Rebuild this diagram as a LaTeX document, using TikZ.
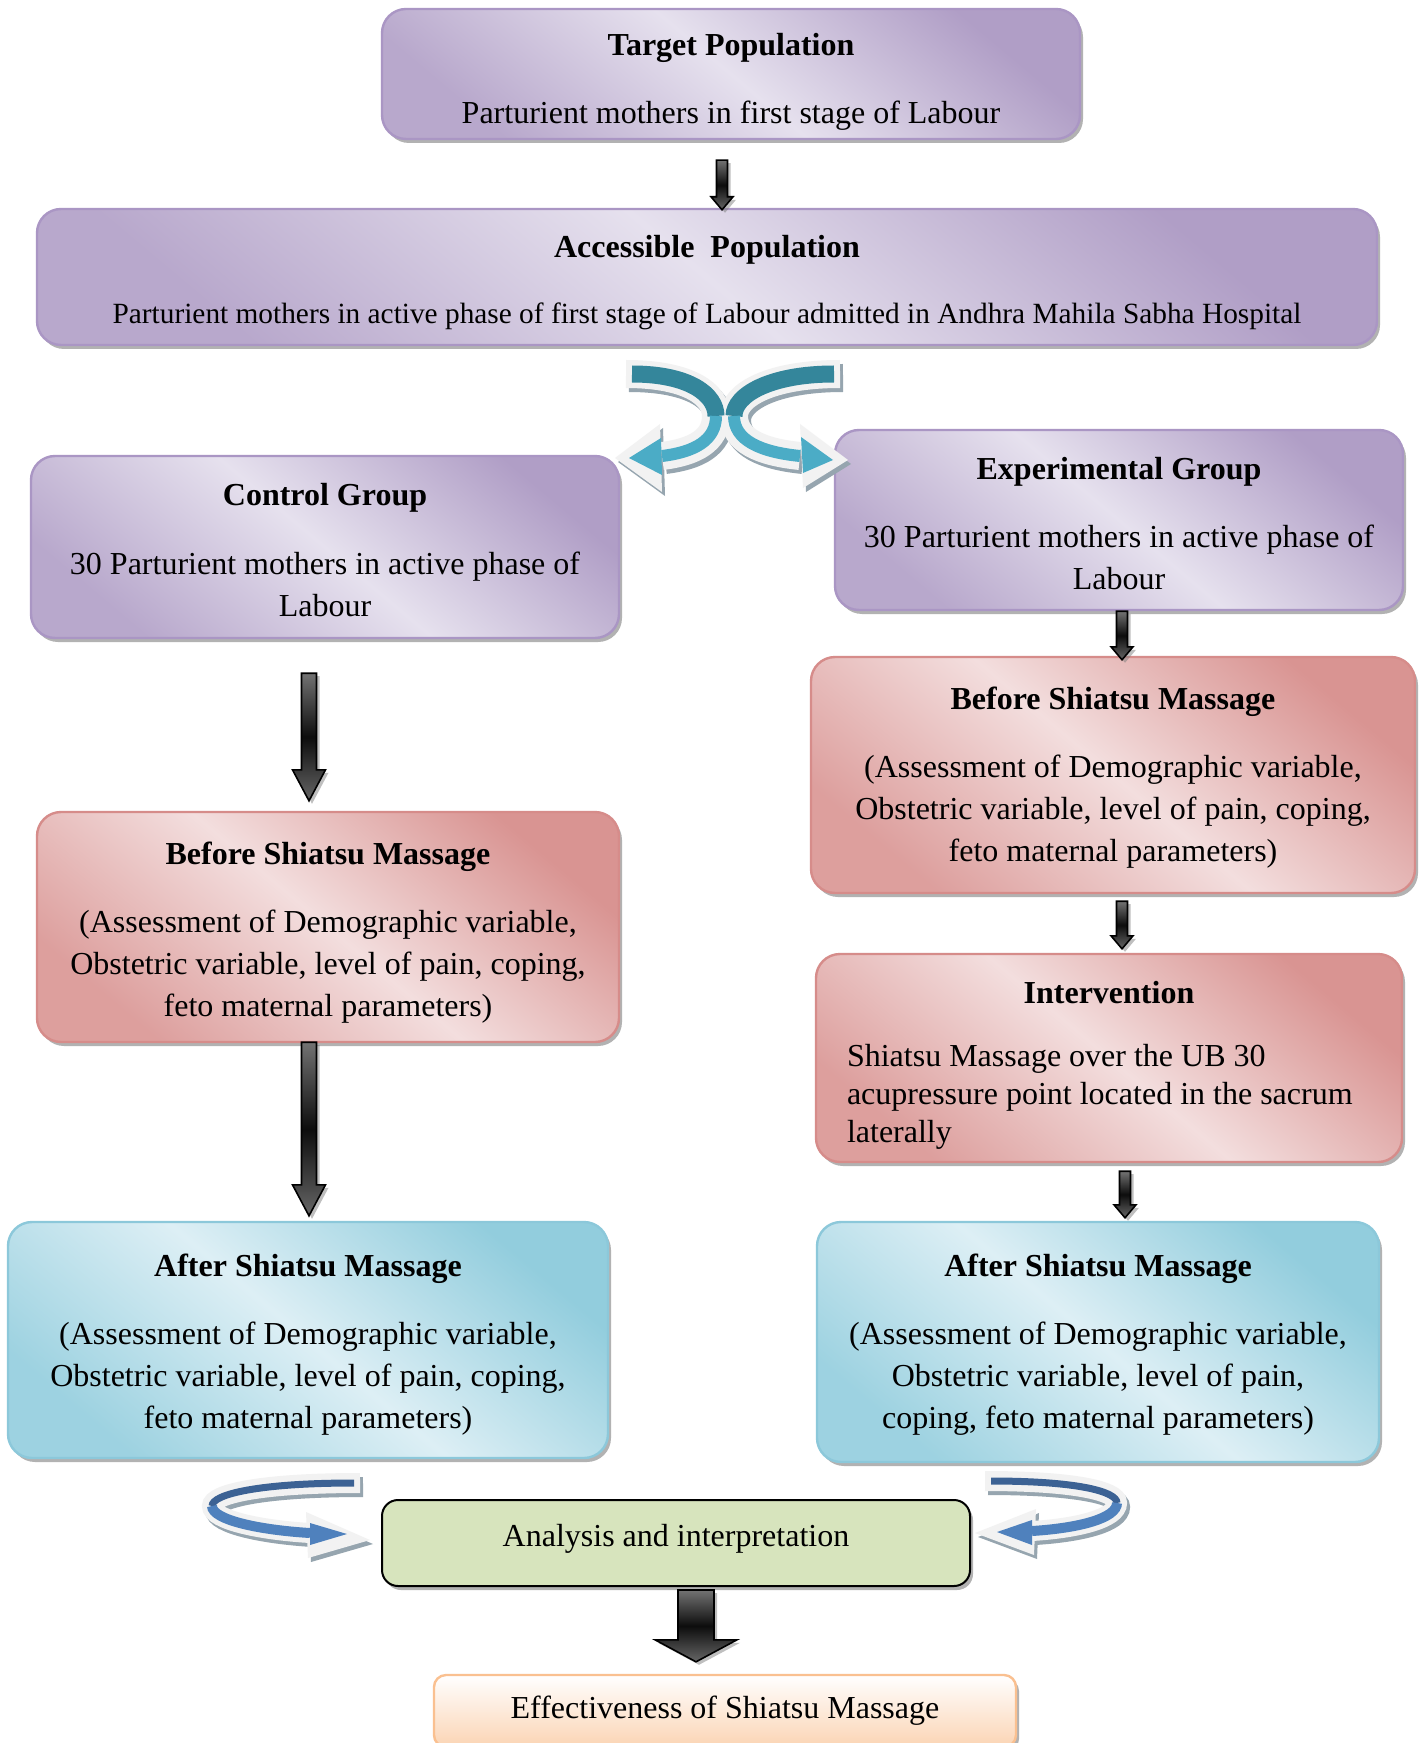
\documentclass[tikz,border=0pt]{standalone}
\usepackage{fontspec}
\setmainfont{Liberation Serif}
\usetikzlibrary{calc,shadows}

\definecolor{purpdark}{RGB}{176,158,198}
\definecolor{purplight}{RGB}{230,225,238}
\definecolor{purpline}{RGB}{170,150,196}
\definecolor{reddark}{RGB}{217,148,146}
\definecolor{redlight}{RGB}{243,222,222}
\definecolor{redline}{RGB}{214,140,138}
\definecolor{bluedark}{RGB}{146,205,221}
\definecolor{bluelight}{RGB}{221,239,245}
\definecolor{blueline}{RGB}{140,200,218}
\definecolor{anagreen}{RGB}{215,228,189}
\definecolor{peachline}{RGB}{250,192,144}
\definecolor{peachfill}{RGB}{251,212,180}
\definecolor{tealdark}{RGB}{52,134,155}
\definecolor{teallight}{RGB}{75,172,198}
\definecolor{swblue}{RGB}{60,98,148}
\definecolor{swbluelight}{RGB}{79,129,189}
\definecolor{swwhite}{RGB}{242,242,242}
\definecolor{swshade}{RGB}{150,165,175}

% strut that pushes a box text down
\newcommand{\boxstrut}[1]{\rule{0pt}{#1}}

\tikzset{
  box/.style={rounded corners=12pt, line width=1.2pt, align=center, inner sep=2pt,
    font=\fontsize{16}{21}\selectfont,
    drop shadow={shadow xshift=1.5pt, shadow yshift=-2pt, fill=black!60, opacity=0.5}},
  purplebox/.style={box, draw=purpline, top color=purpdark, bottom color=purpdark!85!purplight,
    middle color=purplight, shading angle=-40},
  redbox/.style={box, draw=redline, top color=reddark, bottom color=reddark!85!redlight,
    middle color=redlight, shading angle=-40},
  bluebox/.style={box, draw=blueline, top color=bluedark, bottom color=bluedark!85!bluelight,
    middle color=bluelight, shading angle=-40},
  greenbox/.style={box, rounded corners=8pt, draw=black, line width=1pt, fill=anagreen},
  peachbox/.style={box, rounded corners=6pt, draw=peachline, top color=white, bottom color=peachfill,
    drop shadow={shadow xshift=1pt, shadow yshift=-1.5pt, fill=black!30, opacity=0.5}},
  blockarr/.style n args={3}{to path={let \p1=(\tikztostart), \p2=(\tikztotarget) in
      (\x1-#1,\y1) -- (\x1+#1,\y1) -- (\x1+#1,\y2+#3) -- (\x1+#2,\y2+#3)
      -- (\x1,\y2) -- (\x1-#2,\y2+#3) -- (\x1-#1,\y2+#3) -- cycle},
    draw=black, line width=0.8pt, line join=miter,
    top color=black!55, bottom color=black!60, middle color=black!95,
    drop shadow={shadow xshift=1.5pt, shadow yshift=-1.5pt, fill=black!50, opacity=0.5}},
}

\begin{document}
\begin{tikzpicture}[x=0.5pt, y=-0.5pt]
	\path[use as bounding box, fill=white] (0,0) rectangle (1426,1743);
	% populations
	\node[purplebox, minimum width=349pt, minimum height=65pt] (tp) at (731,74)
		{\boxstrut{19.3pt}\textbf{Target Population}\\[13pt]Parturient mothers in first stage of Labour};
	\node[purplebox, minimum width=670pt, minimum height=68pt] (ap) at (707,277)
		{\boxstrut{17pt}\textbf{Accessible\ \ Population}\\[12pt]{\fontsize{14.67}{19}\selectfont Parturient mothers in active phase of first stage of Labour admitted in Andhra Mahila Sabha Hospital}};
	% the two groups
	\node[purplebox, minimum width=294pt, minimum height=91pt] (cg) at (325,547)
		{\boxstrut{13.7pt}\textbf{Control Group}\\[13.5pt]30 Parturient mothers in active phase of\\Labour};
	\node[purplebox, minimum width=284pt, minimum height=90pt] (eg) at (1119,520)
		{\boxstrut{14.9pt}\textbf{Experimental Group}\\[13pt]30 Parturient mothers in active phase of\\Labour};
	% assessments
	\node[redbox, minimum width=291pt, minimum height=115pt] (cbefore) at (328,927)
		{\boxstrut{16.5pt}\textbf{Before Shiatsu Massage}\\[13pt](Assessment of Demographic variable,\\Obstetric variable, level of pain, coping,\\feto maternal parameters)};
	\node[redbox, minimum width=302pt, minimum height=118pt] (ebefore) at (1113,775)
		{\boxstrut{14.3pt}\textbf{Before Shiatsu Massage}\\[13pt](Assessment of Demographic variable,\\Obstetric variable, level of pain, coping,\\feto maternal parameters)};
	\node[redbox, minimum width=293pt, minimum height=104pt, align=flush left, text width=262pt,
		font=\fontsize{16}{19}\selectfont] (interv) at (1109,1058)
		{\boxstrut{18.7pt}\makebox[262pt][c]{\textbf{Intervention}}\\[12.5pt]Shiatsu Massage over the UB 30\\acupressure point located in the sacrum\\laterally};
	\node[bluebox, minimum width=300pt, minimum height=118pt] (cafter) at (308,1340)
		{\boxstrut{15.9pt}\textbf{After Shiatsu Massage}\\[13pt](Assessment of Demographic variable,\\Obstetric variable, level of pain, coping,\\feto maternal parameters)};
	\node[bluebox, minimum width=281pt, minimum height=120pt] (eafter) at (1098,1342)
		{\boxstrut{13.7pt}\textbf{After Shiatsu Massage}\\[13pt](Assessment of Demographic variable,\\Obstetric variable, level of pain,\\coping, feto maternal parameters)};
	\node[greenbox, minimum width=294pt, minimum height=43pt] (anal) at (676,1543)
		{Analysis and interpretation\rule[-8pt]{0pt}{8pt}};
	\node[peachbox, minimum width=291pt, minimum height=36pt] (eff) at (725,1711)
		{Effectiveness of Shiatsu Massage};
	% block arrows
	\draw[blockarr={2.75pt}{5.5pt}{6.5pt}] ([xshift=-4.5pt,yshift=-10pt]tp.south) to ([yshift=-1pt]ap.north);
	\draw[blockarr={2.75pt}{5.5pt}{6.5pt}] ([xshift=1.5pt]eg.south) to ([yshift=-2pt]ebefore.north);
	\draw[blockarr={2.75pt}{5.5pt}{6.5pt}] ([xshift=4.5pt,yshift=-3.5pt]ebefore.south) to ([yshift=2pt]interv.north);
	\draw[blockarr={2.75pt}{5.5pt}{6.5pt}] ([xshift=8pt,yshift=-4pt]interv.south) to ([yshift=1.5pt]eafter.north);
	\draw[blockarr={3.75pt}{8.25pt}{15.5pt}] ([xshift=-8pt,yshift=-17pt]cg.south) to ([yshift=5pt]cbefore.north);
	\draw[blockarr={3.75pt}{8.25pt}{15.5pt}] ([xshift=-9.5pt,yshift=0.5pt]cbefore.south) to ([yshift=2.5pt]cafter.north);
	\draw[blockarr={9pt}{20.5pt}{11pt}] ([xshift=10pt,yshift=-1.5pt]anal.south) to ([yshift=6pt]eff.north);
	% curved arrows
	\coordinate (s1a) at (626,374); \coordinate (s1b) at (716,416); \coordinate (s1c) at (662,456);
	\coordinate (s2a) at (840,374); \coordinate (s2b) at (734,416); \coordinate (s2c) at (800,456);
	\coordinate (s3a) at (360,1483); \coordinate (s3b) at (212,1506); \coordinate (s3c) at (310,1533);
	\coordinate (s4a) at (985,1481); \coordinate (s4b) at (1117,1503); \coordinate (s4c) at (1032,1531);
	\foreach \col/\dx/\dy in {swshade/1.5pt/-2pt, swwhite/0pt/0pt} {
		\begin{scope}[transform canvas={xshift=\dx,yshift=\dy}]
			\draw[\col, line width=14pt] (s1a) .. controls (690,374) and (716,395) .. (s1b) .. controls (716,440) and (695,452) .. (s1c);
			\fill[\col] (660,424) -- (615,458) -- (662,492) -- cycle;
			\draw[\col, line width=14pt] (s2a) .. controls (770,374) and (734,395) .. (s2b) .. controls (734,440) and (760,452) .. (s2c);
			\fill[\col] (800,424) -- (848,460) -- (803,488) -- cycle;
			\draw[\col, line width=10pt] (s3a) .. controls (260,1483) and (212,1494) .. (s3b) .. controls (212,1520) and (260,1530) .. (s3c);
			\fill[\col] (306,1512) -- (370,1540) -- (308,1558) -- cycle;
			\draw[\col, line width=10pt] (s4a) .. controls (1075,1481) and (1117,1491) .. (s4b) .. controls (1117,1518) and (1080,1528) .. (s4c);
			\fill[\col] (1036,1509) -- (975,1533) -- (1034,1555) -- cycle;
		\end{scope}
	}
	\draw[tealdark, line width=8.5pt, shorten <=3pt] (s1a) .. controls (690,374) and (716,395) .. (s1b);
	\draw[teallight, line width=6pt] (s1b) .. controls (716,440) and (695,452) .. (s1c);
	\fill[teallight] (661,438) -- (629,458) -- (662,475) -- cycle;
	\draw[tealdark, line width=8.5pt, shorten <=3pt] (s2a) .. controls (770,374) and (734,395) .. (s2b);
	\draw[teallight, line width=6pt] (s2b) .. controls (734,440) and (760,452) .. (s2c);
	\fill[teallight] (801,437) -- (833,460) -- (803,473) -- cycle;
	\draw[swblue, line width=3.5pt, shorten <=3pt] (s3a) .. controls (260,1483) and (212,1494) .. (s3b);
	\draw[swbluelight, line width=5pt] (s3b) .. controls (212,1520) and (260,1530) .. (s3c);
	\fill[swbluelight] (310,1523) -- (347,1534) -- (310,1545) -- cycle;
	\draw[swblue, line width=3.5pt, shorten <=3pt] (s4a) .. controls (1075,1481) and (1117,1491) .. (s4b);
	\draw[swbluelight, line width=5pt] (s4b) .. controls (1117,1518) and (1080,1528) .. (s4c);
	\fill[swbluelight] (1032,1520) -- (997,1532) -- (1032,1545) -- cycle;
\end{tikzpicture}
\end{document}
